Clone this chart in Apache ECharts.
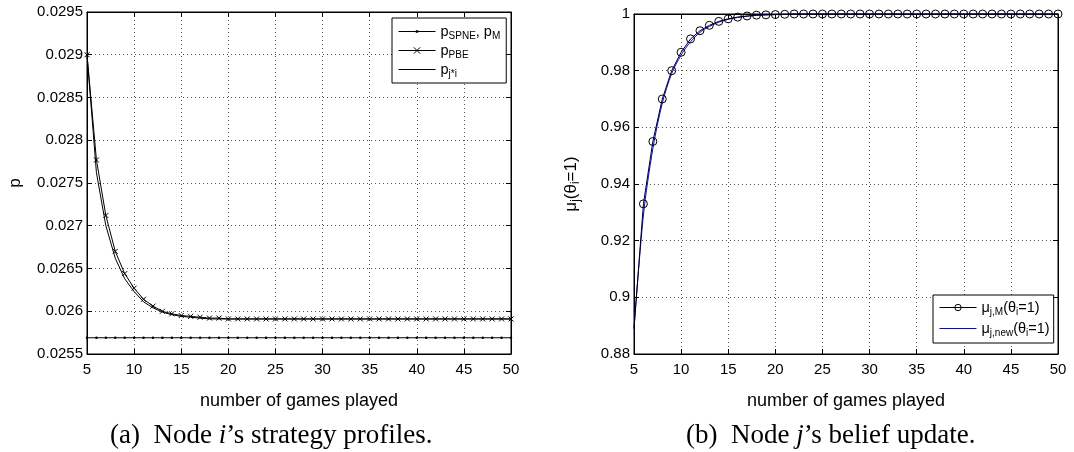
<!DOCTYPE html>
<html><head><meta charset="utf-8">
<script src="https://cdn.jsdelivr.net/npm/echarts@6/dist/echarts.min.js"></script>
<style>html,body{margin:0;padding:0;background:#fff}#c{width:1074px;height:452px}</style>
</head><body><div id="c"></div>
<script>
// ---------- data ----------
const games = [5,6,7,8,9,10,11,12,13,14,15,16,17,18,19,20,21,22,23,24,25,26,27,28,29,30,31,32,33,34,35,36,37,38,39,40,41,42,43,44,45,46,47,48,49,50];
const xTicks = [5,10,15,20,25,30,35,40,45,50];
const pTicks = [0.0255,0.026,0.0265,0.027,0.0275,0.028,0.0285,0.029,0.0295];
const muTicks = [0.88,0.9,0.92,0.94,0.96,0.98,1];

const pSPNE = [0.02569,0.02569,0.02569,0.02569,0.02569,0.02569,0.02569,0.02569,0.02569,0.02569,0.02569,0.02569,0.02569,0.02569,0.02569,0.02569,0.02569,0.02569,0.02569,0.02569,0.02569,0.02569,0.02569,0.02569,0.02569,0.02569,0.02569,0.02569,0.02569,0.02569,0.02569,0.02569,0.02569,0.02569,0.02569,0.02569,0.02569,0.02569,0.02569,0.02569,0.02569,0.02569,0.02569,0.02569,0.02569,0.02569];
const pPBE = [0.02900,0.02777,0.02712,0.02670,0.02644,0.02627,0.02614,0.02606,0.02600,0.02597,0.02595,0.02594,0.02593,0.02592,0.02592,0.02591,0.02591,0.02591,0.02591,0.02591,0.02591,0.02591,0.02591,0.02591,0.02591,0.02591,0.02591,0.02591,0.02591,0.02591,0.02591,0.02591,0.02591,0.02591,0.02591,0.02591,0.02591,0.02591,0.02591,0.02591,0.02591,0.02591,0.02591,0.02591,0.02591,0.02591];
const pJI = [0.02900,0.02762,0.02700,0.02662,0.02638,0.02623,0.02611,0.02604,0.02599,0.02596,0.02594,0.02593,0.02592,0.02591,0.02591,0.02591,0.02591,0.02591,0.02591,0.02591,0.02591,0.02591,0.02591,0.02591,0.02591,0.02591,0.02591,0.02591,0.02591,0.02591,0.02591,0.02591,0.02591,0.02591,0.02591,0.02591,0.02591,0.02591,0.02591,0.02591,0.02591,0.02591,0.02591,0.02591,0.02591,0.02591];

const muM = [0.889,0.933,0.955,0.970,0.980,0.9865,0.9912,0.9941,0.9960,0.9974,0.9983,0.9989,0.9993,0.9996,0.9997,0.9998,0.9999,1,1,1,1,1,1,1,1,1,1,1,1,1,1,1,1,1,1,1,1,1,1,1,1,1,1,1,1,1];
const muNew = [0.889,0.929,0.9525,0.9685,0.979,0.9855,0.9902,0.9935,0.9956,0.9971,0.9981,0.9988,0.9992,0.9995,0.9997,0.9998,0.9999,1,1,1,1,1,1,1,1,1,1,1,1,1,1,1,1,1,1,1,1,1,1,1,1,1,1,1,1,1];

// ---------- chart ----------
const FONT = 'Liberation Sans';
const fmt = v => String(parseFloat(Number(v).toFixed(5)));
const pair = (ys) => games.map((g,i) => [g, ys[i]]);

const grids = [
  {left: 87, top: 12, width: 424, height: 342},
  {left: 634, top: 14, width: 424, height: 340}
];
const gridLine = {show: true, lineStyle: {color: '#555', width: 1, type: [1, 3]}};
function xAx(gi, top) {
  return {
    type: 'value', gridIndex: gi, min: xTicks[0], max: xTicks[xTicks.length-1], interval: 5,
    position: top ? 'top' : 'bottom',
    axisLine: {show: true, onZero: false, lineStyle: {color: '#000', width: 1}},
    axisTick: {show: true, inside: true, length: 5, lineStyle: {color: '#000'}},
    axisLabel: {show: !top, color: '#000', fontFamily: FONT, fontSize: 15, margin: 8},
    splitLine: top ? {show: false} : gridLine,
    name: top ? '' : 'number of games played', nameLocation: 'middle', nameGap: 38,
    nameTextStyle: {color: '#000', fontFamily: FONT, fontSize: 18}
  };
}
function yAx(gi, right, ticks, name, gap, rich) {
  return {
    type: 'value', gridIndex: gi, min: ticks[0], max: ticks[ticks.length-1],
    interval: +(ticks[1]-ticks[0]).toFixed(6),
    position: right ? 'right' : 'left',
    axisLine: {show: true, onZero: false, lineStyle: {color: '#000', width: 1}},
    axisTick: {show: true, inside: true, length: 5, lineStyle: {color: '#000'}},
    axisLabel: {show: !right, color: '#000', fontFamily: FONT, fontSize: 15, margin: 4, formatter: fmt},
    splitLine: right ? {show: false} : gridLine,
    name: right ? '' : name, nameLocation: 'middle', nameGap: gap, nameRotate: 90,
    nameTextStyle: {color: '#000', fontFamily: FONT, fontSize: 18, rich: rich}
  };
}
const subRich = {
  m: {fontFamily: FONT, fontSize: 17, color: '#000', lineHeight: 22, verticalAlign: 'middle'},
  s: {fontFamily: FONT, fontSize: 12, color: '#000', lineHeight: 12, verticalAlign: 'bottom'}
};
const legRich = {
  b: {fontFamily: FONT, fontSize: 14.5, color: '#000', lineHeight: 19, verticalAlign: 'middle'},
  s: {fontFamily: FONT, fontSize: 10, color: '#000', lineHeight: 10, verticalAlign: 'bottom'}
};
const crossPath = 'path://M0,0L10,10M10,0L0,10';
const iconLine = 'path://M0,0M37,8M0,3.5H37V4.5H0Z';
const iconLineDot = 'path://M0,0M37,8M0,3.5H37V4.5H0ZM17.3,2.8H19.7V5.2H17.3Z';
const legLine = {color: '#000', width: 1};
const capRich = {
  n: {fontFamily: 'Liberation Serif', fontSize: 27, fill: '#000'},
  i: {fontFamily: 'Liberation Serif', fontStyle: 'italic', fontSize: 27, fill: '#000'}
};

const option = {
  animation: false,
  backgroundColor: '#fff',
  grid: grids.map(g => Object.assign({show: true, borderColor: '#000', borderWidth: 1, containLabel: false}, g)),
  xAxis: [xAx(0,false), xAx(0,true), xAx(1,false), xAx(1,true)],
  yAxis: [
    yAx(0,false,pTicks,'{m|p}',61,subRich), yAx(0,true,pTicks,'',0,subRich),
    yAx(1,false,muTicks,'{m|μ}{s|j}{m|(θ}{s|i}{m|=1)}',52,subRich), yAx(1,true,muTicks,'',0,subRich)
  ],
  legend: [
    {
      data: [
        {name: 'pSPNE', icon: iconLineDot},
        {name: 'pPBE', itemStyle: {color: 'none', borderColor: '#000', borderWidth: 1}, lineStyle: legLine},
        {name: 'pJI', icon: iconLine}
      ],
      left: 392, top: 18, orient: 'vertical',
      backgroundColor: '#fff', borderColor: '#000', borderWidth: 1, padding: [6, 6, 4, 6],
      itemWidth: 37, itemHeight: 8, itemGap: 2, symbolKeepAspect: true,
      lineStyle: {width: 1}, itemStyle: {borderWidth: 1},
      textStyle: {rich: legRich},
      formatter: n => ({
        pSPNE: '{b|p}{s|SPNE}{b|, p}{s|M}',
        pPBE: '{b|p}{s|PBE}',
        pJI: '{b|p}{s|j*i}'
      })[n]
    },
    {
      data: [
        {name: 'muM', itemStyle: {color: 'none', borderColor: '#000', borderWidth: 1}, lineStyle: legLine},
        {name: 'muNew', icon: iconLine}
      ],
      left: 933, top: 295, orient: 'vertical',
      backgroundColor: '#fff', borderColor: '#000', borderWidth: 1, padding: [5, 4, 5, 6],
      itemWidth: 37, itemHeight: 8, itemGap: 4, symbolKeepAspect: true,
      lineStyle: {width: 1}, itemStyle: {borderWidth: 1},
      textStyle: {rich: legRich},
      formatter: n => ({
        muM: '{b|μ}{s|j,M}{b|(θ}{s|i}{b|=1)}',
        muNew: '{b|μ}{s|j,new}{b|(θ}{s|i}{b|=1)}'
      })[n]
    }
  ],
  series: [
    {name: 'pSPNE', type: 'line', xAxisIndex: 0, yAxisIndex: 0, data: pair(pSPNE),
     symbol: 'circle', symbolSize: 2.5, showAllSymbol: true, itemStyle: {color: '#000'}, lineStyle: {color: '#000', width: 1}},
    {name: 'pJI', type: 'line', xAxisIndex: 0, yAxisIndex: 0, data: pair(pJI),
     symbol: 'none', itemStyle: {color: '#000'}, lineStyle: {color: '#000', width: 1}},
    {name: 'pPBE', type: 'line', xAxisIndex: 0, yAxisIndex: 0, data: pair(pPBE),
     symbol: crossPath, symbolSize: 5, showAllSymbol: true,
     itemStyle: {color: 'none', borderColor: '#000', borderWidth: 1}, lineStyle: {color: '#000', width: 1}},
    {name: 'muNew', type: 'line', xAxisIndex: 2, yAxisIndex: 2, data: pair(muNew),
     symbol: 'none', smooth: 0.3, itemStyle: {color: '#0000ff'}, lineStyle: {color: '#0000ff', width: 1}},
    {name: 'muM', type: 'line', xAxisIndex: 2, yAxisIndex: 2, clip: false,
     data: pair(muM).map((d,i) => i === 0 ? {value: d, symbol: 'none'} : d),
     symbol: 'circle', symbolSize: 8, showAllSymbol: true,
     itemStyle: {color: 'none', borderColor: '#000', borderWidth: 1}, lineStyle: {color: '#000', width: 1}}
  ],
  graphic: [
    {type: 'text', left: 110, top: 422, style: {rich: capRich, text: '{n|(a)  Node }{i|i}{n|’s strategy profiles.}'}},
    {type: 'text', left: 686, top: 422, style: {rich: capRich, text: '{n|(b)  Node }{i|j}{n|’s belief update.}'}}
  ]
};
const chart = echarts.init(document.getElementById('c'), null, {renderer: 'canvas'});
chart.setOption(option);
</script>
</body></html>
